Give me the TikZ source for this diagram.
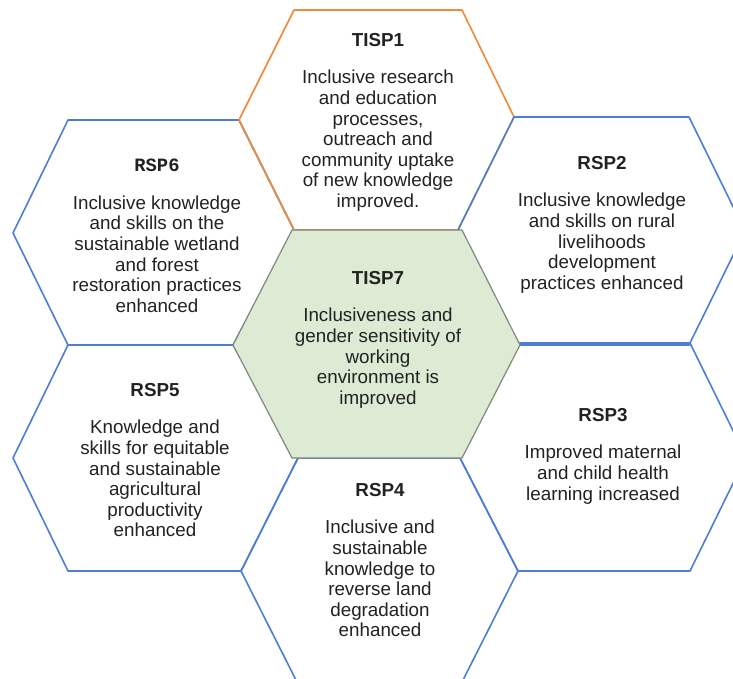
\documentclass[tikz,border=0pt]{standalone}
\usepackage{fontspec}
\setmainfont{Liberation Sans}
\newfontfamily\monofam{Liberation Mono}
\usepackage{xcolor}
\definecolor{edgeblue}{HTML}{4C7FD4}
\definecolor{edgeorange}{HTML}{EE8B3A}
\definecolor{edgegray}{HTML}{7F8A7A}
\definecolor{cellgreen}{HTML}{DDEBD5}
\definecolor{txtgray}{HTML}{222222}

\begin{document}
\begin{tikzpicture}[x=1pt,y=-1pt,
	hexblue/.style={draw=edgeblue,line width=1.6pt,line join=round},
	hexorange/.style={draw=edgeorange,line width=1.6pt,line join=round},
	hexcore/.style={draw=edgegray,fill=cellgreen,line width=1.2pt,line join=round},
	lbl/.style={align=center,inner sep=0pt,anchor=north,text=txtgray,
		font=\fontsize{18.8}{20.6}\selectfont}]
	\useasboundingbox (0,0) rectangle (733,679);
	\clip (0,0) rectangle (733,679);
	\fill[white] (0,0) rectangle (733,679);
	\draw[hexblue] (13,233) -- (68,120) -- (239,120) -- (294,230) -- (233,345) -- (68,345) -- cycle;
	\draw[hexblue] (13,458) -- (68,345) -- (233,345) -- (298,458) -- (241,571) -- (68,571) -- cycle;
	\draw[hexorange] (239,120) -- (294,10) -- (462,10) -- (514,117) -- (458,230) -- (294,230) -- cycle;
	\draw[hexblue] (458,230) -- (514,117) -- (689,117) -- (745,231) -- (689,345) -- (519,345) -- cycle;
	\draw[hexblue] (460,458) -- (519,343) -- (690,343) -- (746,457) -- (690,571) -- (518,571) -- cycle;
	\draw[hexblue] (241,571) -- (298,458) -- (460,458) -- (518,571) -- (460,686) -- (299,686) -- cycle;
	\draw[hexcore] (233,345) -- (292,230) -- (462,230) -- (520,345) -- (462,458) -- (292,458) -- cycle;
	\node[lbl] (tisp1) at (378,33) {\textbf{TISP1}\\[17pt]Inclusive research\\and education\\processes,\\outreach and\\community uptake\\of new knowledge\\improved.};
	\node[lbl] (tisp7) at (378,271) {\textbf{TISP7}\\[17pt]Inclusiveness and\\gender sensitivity of\\working\\environment is\\improved};
	\node[lbl] (rsp2) at (602,156) {\textbf{RSP2}\\[17pt]Inclusive knowledge\\and skills on rural\\livelihoods\\development\\practices enhanced};
	\node[lbl] (rsp6) at (157,159) {{\monofam\bfseries RSP6}\\[17pt]Inclusive knowledge\\and skills on the\\sustainable wetland\\and forest\\restoration practices\\enhanced};
	\node[lbl] (rsp5) at (155,383) {\textbf{RSP5}\\[17pt]Knowledge and\\skills for equitable\\and sustainable\\agricultural\\productivity\\enhanced};
	\node[lbl] (rsp3) at (603,408) {\textbf{RSP3}\\[17pt]Improved maternal\\and child health\\learning increased};
	\node[lbl] (rsp4) at (380,483) {\textbf{RSP4}\\[17pt]Inclusive and\\sustainable\\knowledge to\\reverse land\\degradation\\enhanced};
\end{tikzpicture}
\end{document}
